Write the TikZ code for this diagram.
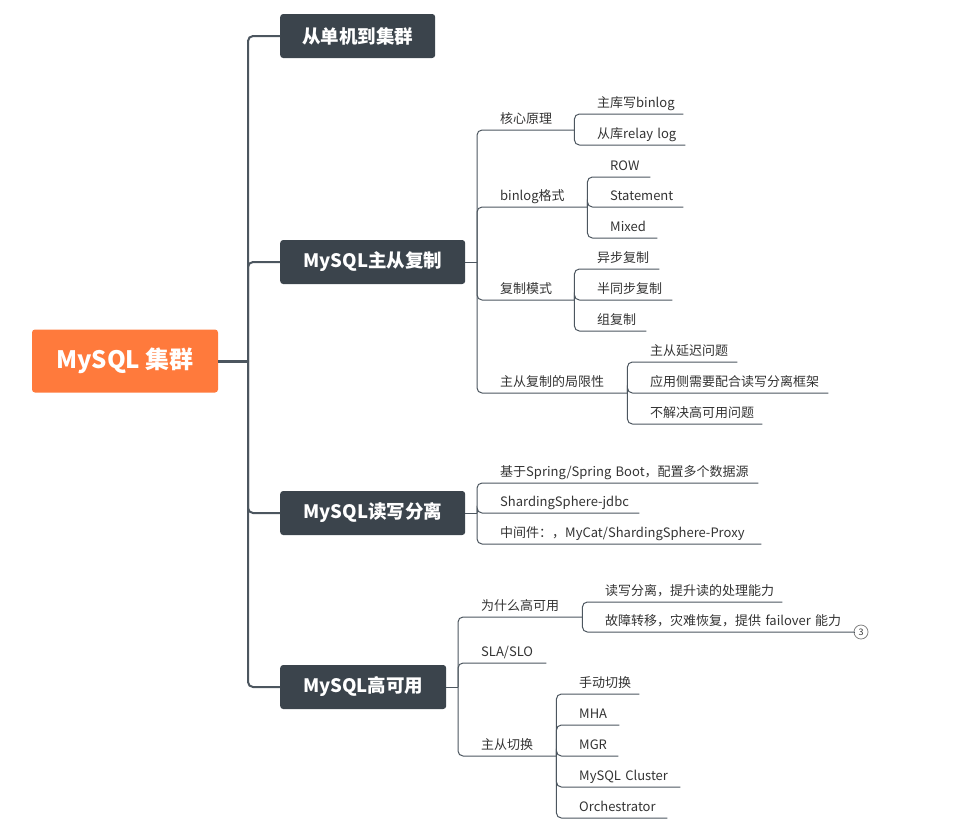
\documentclass[tikz,border=0pt]{standalone}
\usepackage{fontspec}
\setmainfont{Noto Sans CJK SC}
\usetikzlibrary{positioning}
\definecolor{rootorange}{HTML}{FF7A3C}
\definecolor{boxdark}{HTML}{3B444C}
\definecolor{linegray}{HTML}{4C565F}
\definecolor{leaftext}{HTML}{333333}

\begin{document}
\begin{tikzpicture}[x=1pt, y=-1pt,
    root/.style={rectangle, rounded corners=3pt, fill=rootorange, text=white, font=\fontsize{24}{28}\selectfont\bfseries, minimum width=186pt, minimum height=63pt},
    topic/.style={rectangle, rounded corners=3pt, fill=boxdark, text=white, font=\fontsize{18.5}{22}\selectfont\bfseries, minimum height=44pt, anchor=west},
    leaf/.style={anchor=south west, inner xsep=0pt, inner ysep=6.5pt, text depth=0pt, align=left, text=leaftext, font=\fontsize{13}{16}\selectfont, execute at begin node={\hspace*{23pt}}},
    trunk/.style={draw=linegray, line width=2pt, rounded corners=5pt},
    link/.style={draw=linegray, line width=1pt, rounded corners=5pt}]
        \useasboundingbox (0,0) rectangle (965,839);

        % root and the four topics
        \node[root] (cluster) at (125,361) {MySQL 集群};
        \coordinate (trunk) at (248,361);
        \node[topic, minimum width=155pt] (single) at (280,36) {从单机到集群};
        \node[topic, minimum width=185pt] (repl) at (280,262) {MySQL主从复制};
        \node[topic, minimum width=185pt] (rwsplit) at (280,513) {MySQL读写分离};
        \node[topic, minimum width=166pt] (ha) at (280,687) {MySQL高可用};

        \draw[trunk, line width=3pt] (cluster.east) -- (trunk);
        \foreach \n in {single, repl, rwsplit, ha}
            \draw[trunk] (trunk) |- (\n.west);

        % MySQL主从复制
        \coordinate (replj) at (477,262);
        \draw[link] (repl.east) -- (replj);
        \node[leaf, text width=97pt] (core) at (477,130) {核心原理};
        \node[leaf, text width=110pt] (fmt) at (477,207) {binlog格式};
        \node[leaf, text width=97pt] (mode) at (477,300) {复制模式};
        \node[leaf, text width=150pt] (limit) at (477,393) {主从复制的局限性};
        \foreach \n in {core, fmt, mode, limit}
            \draw[link] (replj) |- (\n.south east);

        \node[leaf, text width=109pt] (mbin) at (574,114) {主库写binlog};
        \node[leaf, text width=111pt] (srelay) at (574,145) {从库relay log};
        \foreach \n in {mbin, srelay}
            \draw[link] (core.south east) |- (\n.south east);

        \node[leaf, text width=63pt] (row) at (587,177) {ROW};
        \node[leaf, text width=96pt] (stmt) at (587,207) {Statement};
        \node[leaf, text width=70pt] (mixed) at (587,238) {Mixed};
        \foreach \n in {row, stmt, mixed}
            \draw[link] (fmt.south east) |- (\n.south east);

        \node[leaf, text width=85pt] (async) at (574,269) {异步复制};
        \node[leaf, text width=98pt] (semi) at (574,300) {半同步复制};
        \node[leaf, text width=72pt] (group) at (574,331) {组复制};
        \foreach \n in {async, semi, group}
            \draw[link] (mode.south east) |- (\n.south east);

        \node[leaf, text width=110pt] (delay) at (627,362) {主从延迟问题};
        \node[leaf, text width=201pt] (appside) at (627,393) {应用侧需要配合读写分离框架};
        \node[leaf, text width=135pt] (noha) at (627,424) {不解决高可用问题};
        \foreach \n in {delay, appside, noha}
            \draw[link] (limit.south east) |- (\n.south east);

        % MySQL读写分离
        \coordinate (rwj) at (477,513);
        \draw[link] (rwsplit.east) -- (rwj);
        \node[leaf, text width=281pt] (spring) at (477,483) {基于Spring/Spring Boot，配置多个数据源};
        \node[leaf, text width=162pt] (jdbc) at (477,513) {ShardingSphere-jdbc};
        \node[leaf, text width=284pt] (proxy) at (477,544) {中间件：，MyCat/ShardingSphere-Proxy};
        \foreach \n in {spring, jdbc, proxy}
            \draw[link] (rwj) |- (\n.south east);

        % MySQL高可用
        \coordinate (haj) at (458,687);
        \draw[link] (ha.east) -- (haj);
        \node[leaf, text width=124pt] (why) at (458,617) {为什么高可用};
        \node[leaf, text width=88pt] (sla) at (458,663) {SLA/SLO};
        \node[leaf, text width=98pt] (switch) at (458,756) {主从切换};
        \foreach \n in {why, sla, switch}
            \draw[link] (haj) |- (\n.south east);

        \node[leaf, text width=200pt] (readcap) at (582,602) {读写分离，提升读的处理能力};
        \node[leaf, text width=272pt] (failover) at (582,632) {故障转移，灾难恢复，提供 failover 能力};
        \foreach \n in {readcap, failover}
            \draw[link] (why.south east) |- (\n.south east);
        \node[circle, draw=gray, line width=0.8pt, inner sep=0pt, minimum size=14pt, text=leaftext, font=\fontsize{9}{9}\selectfont] (more) at (861,632) {3};
        \draw[link] (failover.south east) -- (more);

        \node[leaf, text width=83pt] (manual) at (556,694) {手动切换};
        \node[leaf, text width=63pt] (mha) at (556,725) {MHA};
        \node[leaf, text width=62pt] (mgr) at (556,756) {MGR};
        \node[leaf, text width=124pt] (ndb) at (556,787) {MySQL Cluster};
        \node[leaf, text width=111pt] (orch) at (556,818) {Orchestrator};
        \foreach \n in {manual, mha, mgr, ndb, orch}
            \draw[link] (switch.south east) |- (\n.south east);
    \end{tikzpicture}
\end{document}
